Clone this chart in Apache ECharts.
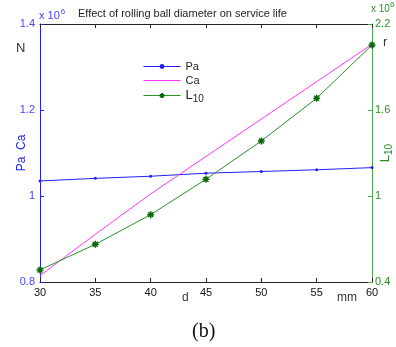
<!DOCTYPE html>
<html><head><meta charset="utf-8">
<script src="https://cdn.jsdelivr.net/npm/echarts@6/dist/echarts.min.js"></script>
<style>html,body{margin:0;padding:0;background:#fff}#c{width:396px;height:347px}</style>
</head><body><div id="c"></div>
<script>
// Data (values in units of 10^6)
const diameters = [30, 35, 40, 45, 50, 55, 60];
const paValues  = [1.035, 1.041, 1.046, 1.053, 1.057, 1.061, 1.066];
const caValues  = [0.815, 0.911, 1.005, 1.092, 1.179, 1.266, 1.353];
const l10Values = [0.484, 0.663, 0.870, 1.117, 1.384, 1.682, 2.054];
const seriesNames = ['Pa', 'Ca', 'L10'];

const FONT = 'Liberation Sans, Arial, sans-serif';
const BLUE = '#2020ff', MAG = '#ff33ff', GREEN = '#2a8f2a', AXGREEN = '#4aa84a';
const pairs = vals => diameters.map((d, i) => [d, vals[i]]);
const star = 'path://M0,-5 L0,5 M-5,0 L5,0 M-3.5,-3.5 L3.5,3.5 M-3.5,3.5 L3.5,-3.5';

const chart = echarts.init(document.getElementById('c'), null, {renderer: 'canvas'});
chart.setOption({
  animation: false,
  backgroundColor: '#fff',
  grid: {left: 40, right: 24, top: 24, bottom: 65, containLabel: false, outerBoundsMode: 'none'},
  legend: {
    orient: 'vertical', left: 138, top: 56, itemWidth: 37, itemHeight: 6, itemGap: 3,
    lineStyle: {width: 1},
    data: [
      {name: 'Pa'},
      {name: 'Ca', itemStyle: {color: 'rgba(0,0,0,0)', borderWidth: 0}},
      {name: 'L10'}
    ],
    formatter: n => n === 'L10' ? '{a|L}{b|10}' : n,
    textStyle: {fontFamily: FONT, fontSize: 11, color: '#222',
      rich: {a: {fontSize: 13, fontFamily: FONT, color: '#222'}, b: {fontSize: 10, fontFamily: FONT, color: '#222', padding: [7, 0, 0, 0]}}}
  },
  xAxis: [
    {type: 'value', position: 'bottom', min: 30, max: 60, interval: 5,
     axisLine: {lineStyle: {color: '#222', width: 1}},
     axisTick: {inside: true, length: 4, lineStyle: {color: '#222'}},
     axisLabel: {color: '#111', fontFamily: FONT, fontSize: 11, margin: 5},
     splitLine: {show: false}},
    {type: 'value', position: 'top', min: 30, max: 60, interval: 5,
     axisLine: {lineStyle: {color: '#222', width: 1}},
     axisTick: {inside: true, length: 4, lineStyle: {color: '#222'}},
     axisLabel: {show: false}, splitLine: {show: false}}
  ],
  yAxis: [
    {type: 'value', position: 'left', min: 0.8, max: 1.4, interval: 0.2,
     axisLine: {show: true, lineStyle: {color: BLUE, width: 1}},
     axisTick: {show: true, inside: true, length: 4, lineStyle: {color: BLUE}},
     axisLabel: {color: '#4444ff', fontFamily: FONT, fontSize: 11, margin: 5},
     splitLine: {show: false},
     name: 'Pa  Ca', nameLocation: 'middle', nameRotate: 90, nameGap: 12, nameMoveOverlap: false,
     nameTextStyle: {color: BLUE, fontFamily: FONT, fontSize: 12}},
    {type: 'value', position: 'right', min: 0.4, max: 2.2, interval: 0.6,
     axisLine: {show: true, lineStyle: {color: AXGREEN, width: 1}},
     axisTick: {show: true, inside: true, length: 4, lineStyle: {color: AXGREEN}},
     axisLabel: {color: GREEN, fontFamily: FONT, fontSize: 11, margin: 3},
     splitLine: {show: false},
     name: '{a|L}{b|10}', nameLocation: 'middle', nameRotate: 90, nameGap: 5, nameMoveOverlap: false,
     nameTextStyle: {color: GREEN, fontFamily: FONT, fontSize: 12,
       rich: {a: {color: GREEN, fontFamily: FONT, fontSize: 13}, b: {color: GREEN, fontFamily: FONT, fontSize: 10, padding: [7, 0, 0, 0]}}}}
  ],
  series: [
    {name: 'Pa', type: 'line', yAxisIndex: 0, data: pairs(paValues),
     symbol: 'circle', symbolSize: 3, showAllSymbol: true,
     lineStyle: {color: BLUE, width: 1}, itemStyle: {color: BLUE}},
    {name: 'Ca', type: 'line', yAxisIndex: 0, data: pairs(caValues),
     symbol: 'none', lineStyle: {color: MAG, width: 1}, itemStyle: {color: MAG}},
    {name: 'L10', type: 'line', yAxisIndex: 1, data: pairs(l10Values),
     symbol: star, symbolSize: 7, showAllSymbol: true,
     lineStyle: {color: GREEN, width: 1},
     itemStyle: {color: GREEN, borderColor: '#0a6a0a', borderWidth: 1.5}}
  ],
  graphic: [
    {type: 'text', left: 78, top: 8, style: {text: 'Effect of rolling ball diameter on service life', font: '11px ' + FONT, fill: '#222'}},
    {type: 'text', left: 39, top: 8, style: {text: '{a|x 10}{b|6}', fill: BLUE,
      rich: {a: {font: '11px ' + FONT, fill: '#4444ff', padding: [4, 0, 0, 0]}, b: {font: '8px ' + FONT, fill: '#4444ff', padding: [0, 0, 4, 1]}}}},
    {type: 'text', left: 371, top: 1, style: {text: '{a|x 10}{b|6}', fill: GREEN,
      rich: {a: {font: '10px ' + FONT, fill: GREEN, padding: [4, 0, 0, 0]}, b: {font: '8px ' + FONT, fill: GREEN, padding: [0, 0, 4, 0]}}}},
    {type: 'text', left: 16, top: 42, style: {text: 'N', font: '13px ' + FONT, fill: '#333'}},
    {type: 'text', left: 383, top: 36, style: {text: 'r', font: '13px ' + FONT, fill: '#333'}},
    {type: 'text', left: 182, top: 292, style: {text: 'd', font: '12px ' + FONT, fill: '#333'}},
    {type: 'text', left: 337, top: 292, style: {text: 'mm', font: '12px ' + FONT, fill: '#333'}},
    {type: 'text', left: 192, top: 322, style: {text: '(b)', font: '20px Liberation Serif, Times New Roman, serif', fill: '#111'}}
  ]
});
</script></body></html>
